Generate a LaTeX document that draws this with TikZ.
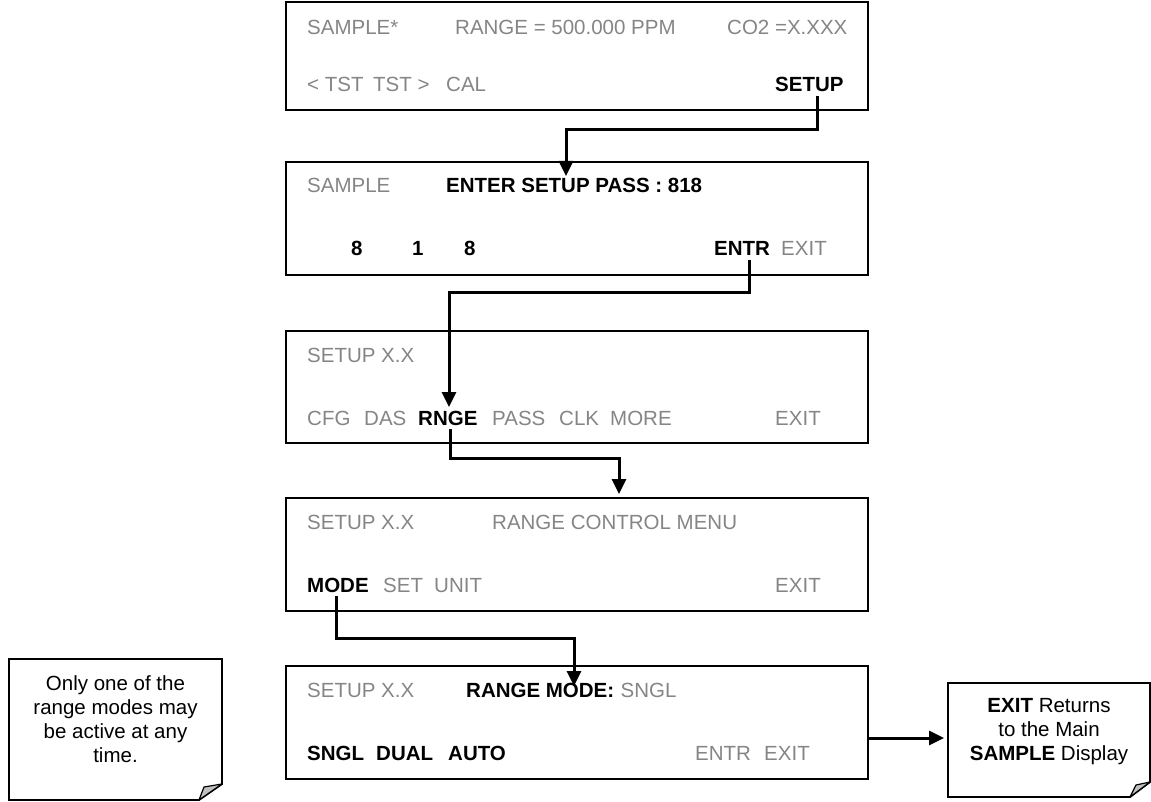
\documentclass[tikz,border=0pt]{standalone}
\usepackage{fontspec}
\setmainfont{Liberation Sans}
\usetikzlibrary{arrows.meta}
\definecolor{txtgray}{HTML}{858585}
\definecolor{foldgray}{HTML}{C0C0C0}
\begin{document}
\begin{tikzpicture}[x=1pt,y=-1pt,
  screen/.style={draw=black, line width=1.8pt, anchor=north west, minimum width=582pt, minimum height=#1, inner sep=0pt, outer sep=0pt},
  gw/.style={anchor=base west, inner sep=0pt, text=txtgray, font=\fontsize{20.5}{24}\selectfont},
  bw/.style={anchor=base west, inner sep=0pt, text=black, font=\fontsize{20.5}{24}\selectfont\bfseries},
  flow/.style={draw=black, line width=3pt, -{Triangle[length=15pt,width=14pt]}},
  notebox/.style={draw=none, anchor=north west, inner sep=0pt, outer sep=0pt},
  noteline/.style={draw=black, line width=1.8pt, fill=white, line join=miter},
  foldline/.style={draw=black, line width=1.2pt, fill=foldgray, line join=round},
  notetext/.style={align=center, inner sep=0pt, text=black, font=\fontsize{20.5}{24}\selectfont},
]
\useasboundingbox (0,0) rectangle (1151,802);

% ---------- screens ----------
\node[screen=108pt] (b1) at (286,2) {};
\node[screen=113pt] (b2) at (286,162) {};
\node[screen=112pt] (b3) at (286,331) {};
\node[screen=113pt] (b4) at (286,498) {};
\node[screen=113pt] (b5) at (286,666) {};

% screen 1
\node[gw] (s1a) at (307,35) {SAMPLE*};
\node[gw] (s1b) at (455,35) {RANGE = 500.000 PPM};
\node[gw] (s1c) at (727,35) {CO2 =X.XXX};
\node[gw] (s1d) at (307,92) {< TST};
\node[gw] (s1e) at (373,92) {TST >};
\node[gw] (s1f) at (446,92) {CAL};
\node[bw] (setupk) at (775,92) {SETUP};

% screen 2
\node[gw] (s2a) at (307,193) {SAMPLE};
\node[bw] (s2b) at (446,193) {ENTER SETUP PASS : 818};
\node[bw] (s2c) at (351,256) {8};
\node[bw] (s2d) at (412,256) {1};
\node[bw] (s2e) at (464,256) {8};
\node[bw] (entrk) at (714,256) {ENTR};
\node[gw] (s2f) at (781,256) {EXIT};

% screen 3
\node[gw] (s3a) at (307,362) {SETUP X.X};
\node[gw] (s3b) at (307,425) {CFG};
\node[gw] (s3c) at (364,425) {DAS};
\node[bw] (rngek) at (418,425) {RNGE};
\node[gw] (s3d) at (492,425) {PASS};
\node[gw] (s3e) at (559,425) {CLK};
\node[gw] (s3f) at (610,425) {MORE};
\node[gw] (s3g) at (775,425) {EXIT};

% screen 4
\node[gw] (s4a) at (307,529) {SETUP X.X};
\node[gw] (s4b) at (492,529) {RANGE CONTROL MENU};
\node[bw] (modek) at (307,592) {MODE};
\node[gw] (s4c) at (383,592) {SET};
\node[gw] (s4d) at (434,592) {UNIT};
\node[gw] (s4e) at (775,592) {EXIT};

% screen 5
\node[gw] (s5a) at (307,697) {SETUP X.X};
\node[bw] (s5b) at (466,697) {RANGE MODE:};
\node[gw, anchor=base west] (s5c) at ([xshift=6pt]s5b.base east) {SNGL};
\node[bw] (s5d) at (307,760) {SNGL};
\node[bw] (s5e) at (376,760) {DUAL};
\node[bw] (s5f) at (448,760) {AUTO};
\node[gw] (s5g) at (695,760) {ENTR};
\node[gw] (s5h) at (764,760) {EXIT};

% ---------- notes ----------
\node[notebox, minimum width=213pt, minimum height=141pt] (n1) at (9,659) {};
\draw[noteline] (n1.north west) -- (n1.north east) -- ([yshift=16pt]n1.south east)
  -- ([xshift=-23pt]n1.south east) -- (n1.south west) -- cycle;
\draw[foldline] ([xshift=-23pt]n1.south east) -- ([xshift=-18pt,yshift=13pt]n1.south east)
  -- ([yshift=16pt]n1.south east) -- cycle;
\node[notetext] (n1t) at (115.5,719) {Only one of the\\range modes may\\be active at any\\time.};

\node[notebox, minimum width=202pt, minimum height=114pt] (n2) at (948,683) {};
\draw[noteline] (n2.north west) -- (n2.north east) -- ([yshift=15pt]n2.south east)
  -- ([xshift=-20pt]n2.south east) -- (n2.south west) -- cycle;
\draw[foldline] ([xshift=-20pt]n2.south east) -- ([xshift=-14pt,yshift=12pt]n2.south east)
  -- ([yshift=15pt]n2.south east) -- cycle;
\node[notetext] (n2t) at (1049,732) {\textbf{EXIT} Returns\\to the Main\\\textbf{SAMPLE} Display};

% ---------- connectors ----------
\coordinate (k1) at (566,130);
\coordinate (t1) at (566,176);
\draw[flow] ([xshift=8pt,yshift=-4pt]setupk.south) |- (k1) -- (t1);

\coordinate (k2) at (449,293);
\coordinate (t2) at (449,407);
\draw[flow] ([xshift=7pt,yshift=-4pt]entrk.south) |- (k2) -- (t2);

\coordinate (k3) at (619,458);
\coordinate (t3) at (619,494);
\draw[flow] ([xshift=3pt,yshift=-4pt]rngek.south) |- (k3) -- (t3);

\coordinate (k4) at (574,638);
\coordinate (t4) at (574,686);
\draw[flow] ([xshift=-1pt,yshift=-4pt]modek.south) |- (k4) -- (t4);

\draw[flow, shorten >=4pt] (b5.east |- 0,738) -- (n2.west |- 0,738);
\end{tikzpicture}
\end{document}
